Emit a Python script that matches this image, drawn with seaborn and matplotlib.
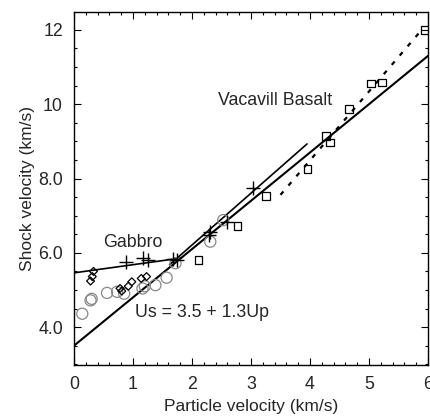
import matplotlib
matplotlib.use("Agg")
import matplotlib.pyplot as plt
import seaborn as sns
import pandas as pd
from matplotlib.ticker import MultipleLocator, FixedLocator, FixedFormatter

sns.set_theme(style="ticks")
plt.rcParams['font.family'] = ['Liberation Sans', 'DejaVu Sans']

# Data
plus_x = [0.88, 1.17, 1.25, 1.68, 1.74, 2.29, 2.31, 2.59, 3.03]
plus_y = [5.74, 5.86, 5.80, 5.82, 5.80, 6.47, 6.56, 6.83, 7.75]

diam_x = [0.33, 0.31, 0.28, 0.78, 0.81, 0.92, 0.98, 1.14, 1.23]
diam_y = [5.50, 5.36, 5.24, 5.04, 4.97, 5.10, 5.22, 5.31, 5.36]

circ_x = [0.14, 0.28, 0.30, 0.56, 0.73, 0.85, 1.16, 1.20, 1.38, 1.57, 1.72, 2.31, 2.53]
circ_y = [4.36, 4.72, 4.76, 4.92, 4.95, 4.90, 5.04, 5.10, 5.13, 5.33, 5.72, 6.30, 6.88]

sq_x = [2.11, 2.77, 3.25, 3.96, 4.27, 4.34, 4.66, 5.03, 5.22, 5.95]
sq_y = [5.80, 6.72, 7.53, 8.25, 9.15, 8.97, 9.87, 10.56, 10.58, 12.00]

fit_x = [0.0, 6.0]
fit_y = [3.5, 11.3]

gabbro_x = [0.0, 1.82]
gabbro_y = [5.46, 5.86]

upper_x = [1.62, 3.95]
upper_y = [5.68, 8.93]

basalt_x = [3.50, 5.92]
basalt_y = [7.56, 12.05]

xticks = [0, 1, 2, 3, 4, 5, 6]
yticks = [4, 6, 8, 10, 12]
ytick_labels = ["4.0", "6.0", "8.0", "10", "12"]

fig = plt.figure(figsize=(4.31, 4.16), dpi=100)
ax = fig.add_axes([0.1717, 0.1226, 0.8213, 0.8484])

sns.lineplot(x=fit_x, y=fit_y, ax=ax, color="black", lw=1.5, sort=False)
sns.lineplot(x=gabbro_x, y=gabbro_y, ax=ax, color="black", lw=1.2, sort=False)
sns.lineplot(x=upper_x, y=upper_y, ax=ax, color="black", lw=1.2, sort=False)
sns.lineplot(x=basalt_x, y=basalt_y, ax=ax, color="black", lw=1.6, sort=False,
             dashes=False, linestyle=(0, (2, 3.5)))

sns.scatterplot(x=circ_x, y=circ_y, ax=ax, marker="o", s=64, facecolor="none",
                edgecolor="#888888", linewidth=0.9, zorder=3)
sns.scatterplot(x=diam_x, y=diam_y, ax=ax, marker="D", s=16, facecolor="none",
                edgecolor="black", linewidth=0.9, zorder=4)
sns.scatterplot(x=sq_x, y=sq_y, ax=ax, marker="s", s=30, facecolor="none",
                edgecolor="black", linewidth=0.9, zorder=4)
sns.scatterplot(x=plus_x, y=plus_y, ax=ax, marker="+", s=90, color="black",
                linewidth=1.0, zorder=5)

ax.text(1.0, 6.28, "Gabbro", fontsize=12.8, ha="center", va="center")
ax.text(2.44, 10.1, "Vacavill Basalt", fontsize=12.8, ha="left", va="center")
ax.text(1.03, 4.40, "Us = 3.5 + 1.3Up", fontsize=12.8, ha="left", va="center")

ax.set_xlim(0, 6)
ax.set_ylim(2.98, 12.48)
ax.xaxis.set_major_locator(FixedLocator(xticks))
ax.xaxis.set_minor_locator(MultipleLocator(0.2))
ax.yaxis.set_major_locator(FixedLocator(yticks))
ax.yaxis.set_major_formatter(FixedFormatter(ytick_labels))
ax.yaxis.set_minor_locator(MultipleLocator(0.5))
ax.tick_params(which="both", direction="in", top=True, right=True, color="black", width=0.8)
ax.tick_params(which="major", length=5, labelsize=12.8, pad=8)
ax.tick_params(which="minor", length=2.5)
for s in ax.spines.values():
    s.set_color("black")
    s.set_linewidth(1.0)
ax.set_xlabel("Particle velocity (km/s)", fontsize=12.5, labelpad=4)
ax.set_ylabel("Shock velocity (km/s)", fontsize=12.5, labelpad=2)

fig.savefig("out.png", dpi=100)
